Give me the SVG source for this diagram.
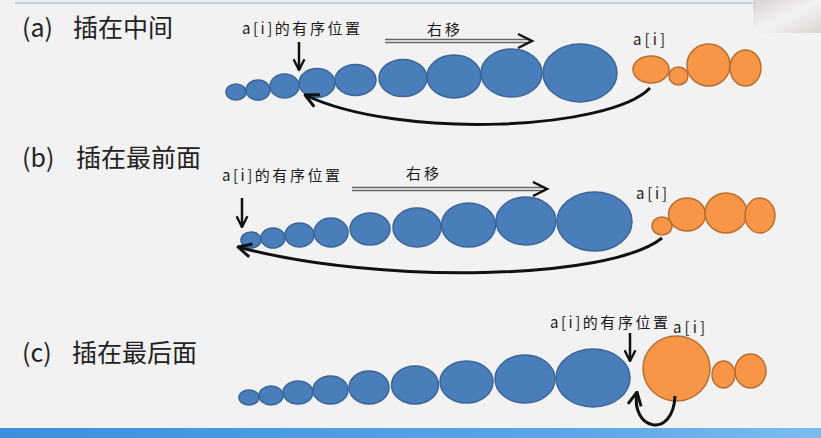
<svg xmlns="http://www.w3.org/2000/svg" width="821" height="438" viewBox="0 0 821 438">
<style>
.title{font-family:"Noto Sans CJK SC","Noto Sans",sans-serif;font-size:25px;fill:#222}
.lbl{font-family:"Noto Sans CJK SC","Noto Sans",sans-serif;font-size:15px;fill:#1a1a1a}
.b{fill:#4a7ebb;stroke:#3a6596;stroke-width:1.5}
.o{fill:#f79646;stroke:#b86f2e;stroke-width:1.5}
.curve{fill:none;stroke:#111;stroke-width:3}
.down{fill:none;stroke:#111;stroke-width:2.5}
.shaftO{stroke:#666;stroke-width:4.5}
.shaftI{stroke:#fafafa;stroke-width:1.5}
</style>
<defs>
<marker id="vh" markerUnits="userSpaceOnUse" viewBox="0 0 12 12" refX="11" refY="6" markerWidth="16" markerHeight="16" orient="auto">
<path d="M1,1 L11,6 L1,11" fill="none" stroke="#111" stroke-width="2.2"/>
</marker>
<marker id="vs" markerUnits="userSpaceOnUse" viewBox="0 0 12 12" refX="11" refY="6" markerWidth="13" markerHeight="13" orient="auto">
<path d="M1,1 L11,6 L1,11" fill="none" stroke="#111" stroke-width="2.2"/>
</marker>
<linearGradient id="bar" x1="0" y1="0" x2="1" y2="0">
<stop offset="0" stop-color="#3c8fdc"/>
<stop offset="0.7" stop-color="#5aa6e8"/>
<stop offset="1" stop-color="#7bbcf0"/>
</linearGradient>
<linearGradient id="cam" x1="0" y1="0" x2="1" y2="1">
<stop offset="0" stop-color="#d6d2d0"/>
<stop offset="0.5" stop-color="#f4f2f1"/>
<stop offset="1" stop-color="#d9d5d3"/>
</linearGradient>
</defs>
<rect width="821" height="438" fill="#f2f2f2"/>
<line x1="15" y1="3" x2="753" y2="3" stroke="#a9c4e8" stroke-width="1.5"/>
<rect x="753" y="0" width="68" height="33" fill="url(#cam)"/>
<rect x="0" y="428" width="821" height="10" fill="url(#bar)"/>

<g id="titles">
<text class="title" x="22" y="37">(a)<tspan x="73">插在中间</tspan></text>
<text class="title" x="22" y="167">(b)<tspan x="76">插在最前面</tspan></text>
<text class="title" x="22" y="362">(c)<tspan x="72">插在最后面</tspan></text>
</g>

<g id="row-a">
<g id="a-sorted">
<ellipse class="b" cx="236" cy="92" rx="10" ry="8"/>
<ellipse class="b" cx="258" cy="90" rx="12" ry="10"/>
<ellipse class="b" cx="284.5" cy="86" rx="14.5" ry="12"/>
<ellipse class="b" cx="317" cy="83" rx="18" ry="14.5"/>
<ellipse class="b" cx="355.5" cy="80" rx="20.5" ry="15.5"/>
<ellipse class="b" cx="403" cy="78" rx="24" ry="18.5"/>
<ellipse class="b" cx="454" cy="76.5" rx="27" ry="21.5"/>
<ellipse class="b" cx="511.5" cy="73" rx="30.5" ry="24"/>
<ellipse class="b" cx="580" cy="73" rx="37" ry="29"/>
</g>
<g id="a-unsorted">
<ellipse class="o" cx="651" cy="69.5" rx="18" ry="13.5"/>
<ellipse class="o" cx="678.5" cy="76" rx="9.5" ry="9"/>
<ellipse class="o" cx="708.5" cy="65" rx="21.5" ry="21"/>
<ellipse class="o" cx="745.5" cy="68" rx="15.5" ry="18"/>
</g>
<text class="lbl" x="242" y="34" textLength="118" lengthAdjust="spacing">a[i]的有序位置</text>
<text class="lbl" x="427" y="35" font-size="16" textLength="33" lengthAdjust="spacing">右移</text>
<text class="lbl" x="633" y="45" textLength="32" lengthAdjust="spacing">a[i]</text>
</g>

<g id="row-b">
<g id="b-sorted">
<ellipse class="b" cx="251" cy="240" rx="10" ry="8"/>
<ellipse class="b" cx="273" cy="238" rx="12" ry="10"/>
<ellipse class="b" cx="299.5" cy="235" rx="14.5" ry="12"/>
<ellipse class="b" cx="331" cy="232.5" rx="17" ry="14.5"/>
<ellipse class="b" cx="370" cy="229" rx="20" ry="16"/>
<ellipse class="b" cx="417" cy="227.5" rx="24" ry="19.5"/>
<ellipse class="b" cx="468.5" cy="225" rx="27" ry="22"/>
<ellipse class="b" cx="526" cy="221" rx="30" ry="24"/>
<ellipse class="b" cx="594.5" cy="221.5" rx="37.5" ry="29.5"/>
</g>
<g id="b-unsorted">
<ellipse class="o" cx="662" cy="226" rx="10" ry="9"/>
<ellipse class="o" cx="687" cy="214.5" rx="18.5" ry="16.5"/>
<ellipse class="o" cx="726" cy="213" rx="21" ry="20"/>
<ellipse class="o" cx="760" cy="215.5" rx="15" ry="17.5"/>
</g>
<text class="lbl" x="222" y="181" textLength="118" lengthAdjust="spacing">a[i]的有序位置</text>
<text class="lbl" x="406" y="179" font-size="16" textLength="33" lengthAdjust="spacing">右移</text>
<text class="lbl" x="636" y="199" textLength="31" lengthAdjust="spacing">a[i]</text>
</g>

<g id="row-c">
<g id="c-sorted">
<ellipse class="b" cx="249" cy="397.5" rx="10" ry="7.5"/>
<ellipse class="b" cx="271" cy="395.5" rx="12" ry="9.5"/>
<ellipse class="b" cx="298" cy="392.5" rx="15" ry="11.5"/>
<ellipse class="b" cx="330.5" cy="390" rx="17.5" ry="14"/>
<ellipse class="b" cx="369" cy="387.5" rx="20" ry="16.5"/>
<ellipse class="b" cx="415" cy="385" rx="23.5" ry="19"/>
<ellipse class="b" cx="466.5" cy="382" rx="26.5" ry="21"/>
<ellipse class="b" cx="525" cy="379" rx="30" ry="24"/>
<ellipse class="b" cx="593" cy="378" rx="37" ry="29"/>
</g>
<g id="c-unsorted">
<ellipse class="o" cx="676.5" cy="368.5" rx="33.5" ry="32.5"/>
<ellipse class="o" cx="723.5" cy="374.5" rx="11.5" ry="13.5"/>
<ellipse class="o" cx="750.5" cy="371" rx="15.5" ry="17"/>
</g>
<text class="lbl" x="550" y="328" textLength="118" lengthAdjust="spacing">a[i]的有序位置</text>
<text class="lbl" x="673" y="333" textLength="32" lengthAdjust="spacing">a[i]</text>
</g>

<g id="connectors">
<path class="down" d="M299,42 V70" marker-end="url(#vs)"/>
<path class="down" d="M242,198 V227" marker-end="url(#vs)"/>
<path class="down" d="M630,333 V361" marker-end="url(#vs)"/>
<line class="shaftO" x1="385" y1="41" x2="530" y2="41"/>
<line class="shaftI" x1="385" y1="41" x2="529" y2="41"/>
<path d="M518,34 L532,41 L518,48" fill="none" stroke="#111" stroke-width="2.5"/>
<line class="shaftO" x1="352" y1="189" x2="545" y2="189"/>
<line class="shaftI" x1="352" y1="189" x2="544" y2="189"/>
<path d="M533,182 L547,189 L533,196" fill="none" stroke="#111" stroke-width="2.5"/>
<path class="curve" d="M650,88 C610,130 400,140 305,95" marker-end="url(#vh)"/>
<path class="curve" d="M662,238 C610,280 380,285 238,247" marker-end="url(#vh)"/>
<path class="curve" d="M675,396 C673,440 630,430 637,392" marker-end="url(#vh)"/>
</g>
</svg>
